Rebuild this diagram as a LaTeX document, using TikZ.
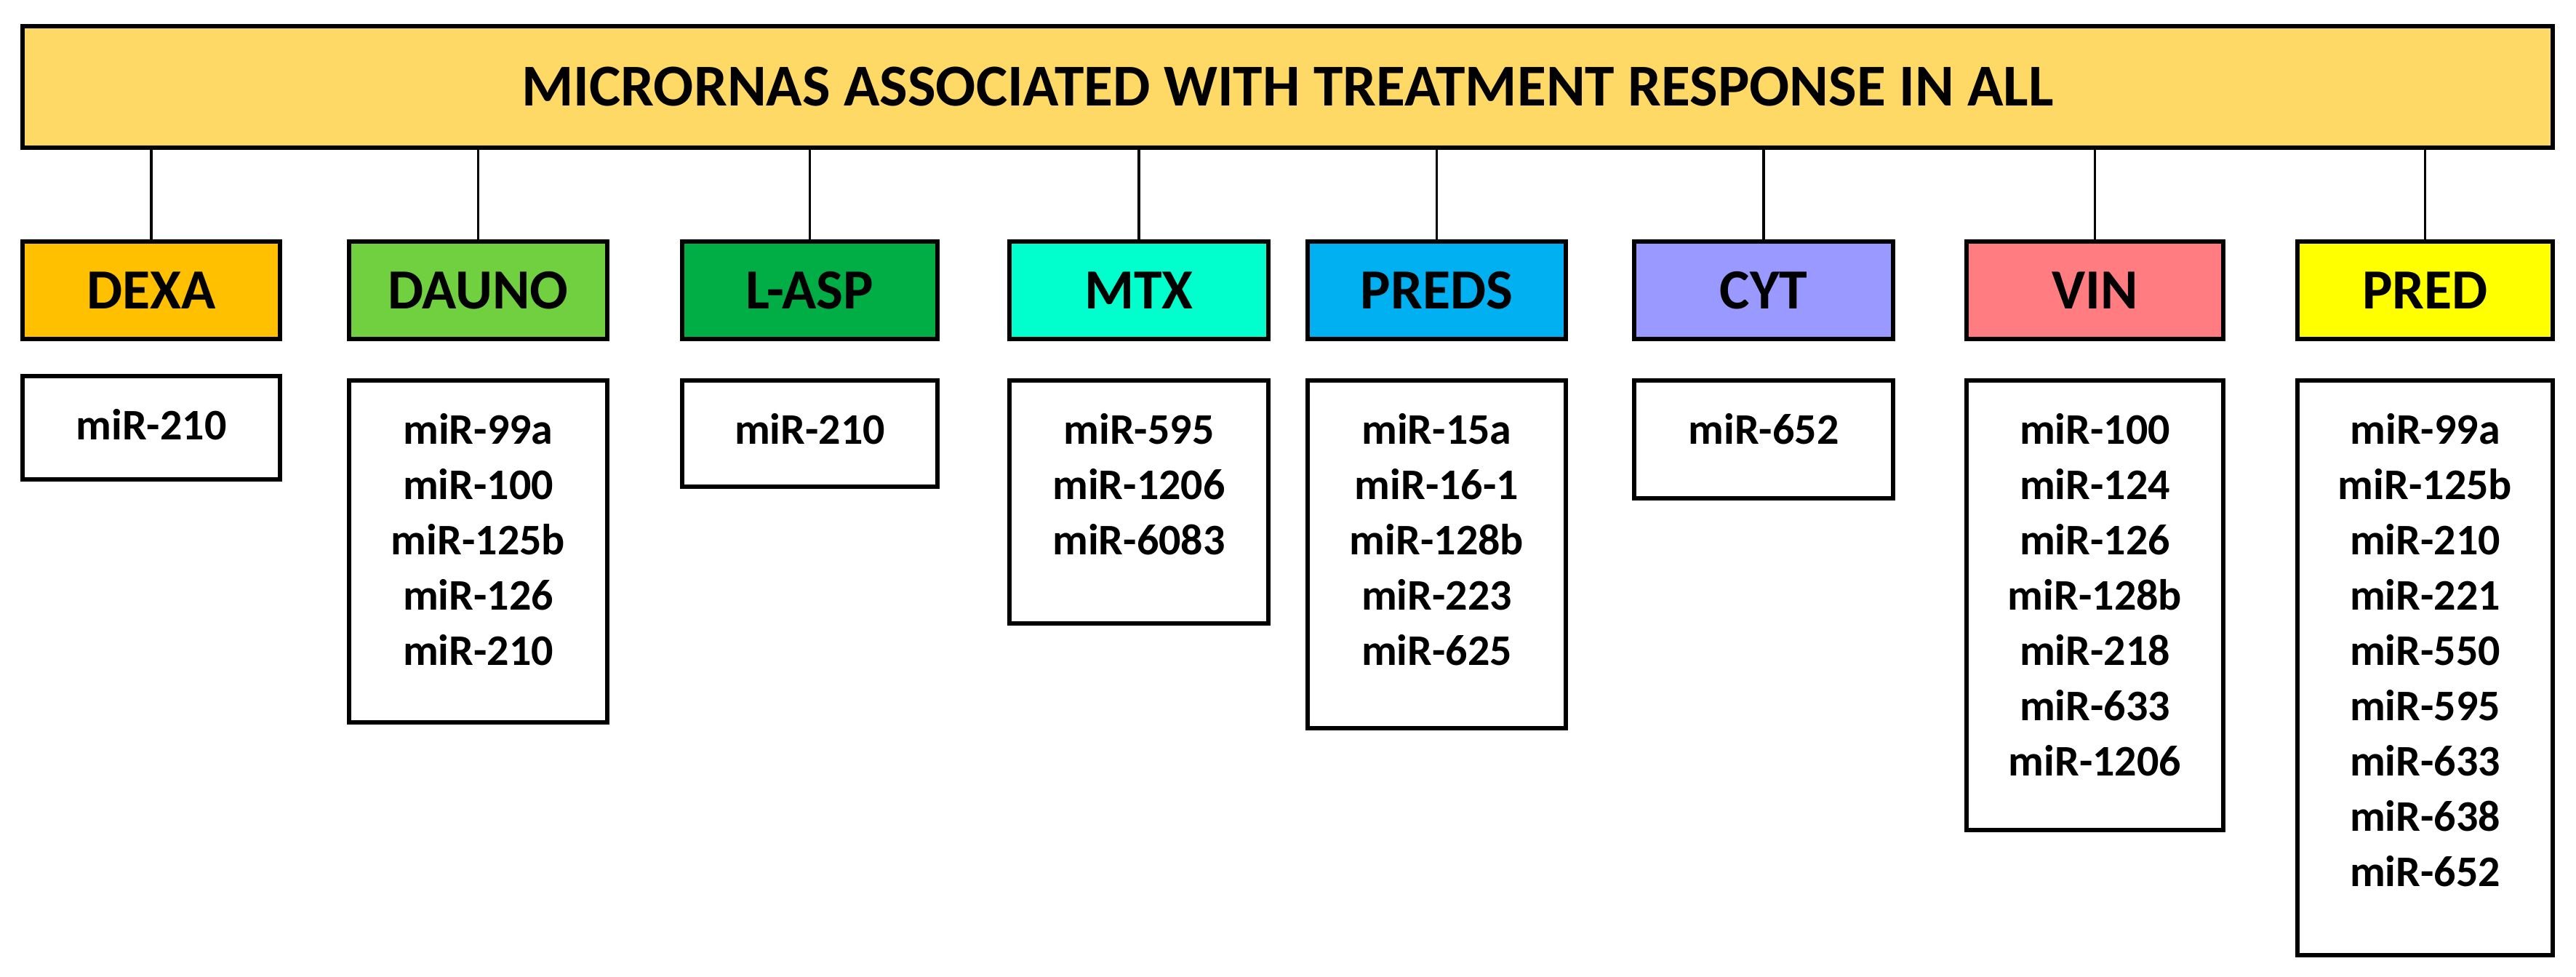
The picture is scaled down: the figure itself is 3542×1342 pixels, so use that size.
\documentclass[tikz,border=0pt]{standalone}
\usepackage{fontspec}
\setmainfont{Carlito}
\definecolor{titlefill}{HTML}{FFD966}
\definecolor{cdexa}{HTML}{FFC000}
\definecolor{cdauno}{HTML}{70D040}
\definecolor{clasp}{HTML}{00AE45}
\definecolor{cmtx}{HTML}{00FFCC}
\definecolor{cpreds}{HTML}{00B0F0}
\definecolor{ccyt}{HTML}{9999FF}
\definecolor{cvin}{HTML}{FF7C80}
\definecolor{cpred}{HTML}{FFFF00}
\newcommand\mkdrug[5]{\node[drugbox,fill=#4,minimum width={(#3-#2-6)*0.25pt},minimum height={134*0.25pt}] (#1) at ({(#2+#3)/2},399) {#5};}
\newcommand\mklist[6]{%
  \node[listbox,minimum width={(#3-#2-6)*0.25pt},minimum height={(#5-#4-6)*0.25pt}] (#1) at ({(#2+#3)/2},{(#4+#5)/2}) {};
  \node[listtext] (#1t) at ([yshift=-12pt]#1.north) {#6};}
\begin{document}
\begin{tikzpicture}[x=0.25pt,y=-0.25pt,
  hdrbox/.style={draw=black,line width=1.5pt,inner sep=0pt,font=\bfseries\fontsize{20.4}{24}\selectfont},
  drugbox/.style={draw=black,line width=1.5pt,inner sep=0pt,font=\bfseries\fontsize{19.5}{23}\selectfont},
  listbox/.style={draw=black,line width=1.5pt,inner sep=0pt,fill=white},
  listtext/.style={anchor=north,inner sep=0pt,align=center,font=\bfseries\fontsize{15}{19}\selectfont},
  link/.style={line width=0.9pt,draw=black}]
\useasboundingbox[fill=white] (0,0) rectangle (3542,1342);
\node[hdrbox,fill=titlefill,minimum width={(3513-28-6)*0.25pt},minimum height={(206-33-6)*0.25pt}] (title) at ({(28+3513)/2},{(33+206)/2}) {MICRORNAS ASSOCIATED WITH TREATMENT RESPONSE IN ALL};
\mkdrug{dexa}{28}{388}{cdexa}{DEXA}
\mkdrug{dauno}{477}{838}{cdauno}{DAUNO}
\mkdrug{lasp}{935}{1292}{clasp}{L-ASP}
\mkdrug{mtx}{1385}{1747}{cmtx}{MTX}
\mkdrug{preds}{1795}{2156}{cpreds}{PREDS}
\mkdrug{cyt}{2244}{2606}{ccyt}{CYT}
\mkdrug{vin}{2701}{3060}{cvin}{VIN}
\mkdrug{pred}{3156}{3513}{cpred}{PRED}
\foreach \d in {dexa,dauno,lasp,mtx,preds,cyt,vin,pred}{
  \draw[link] (title.south -| \d.north) -- (\d.north);
}
\mklist{ldexa}{28}{388}{514}{662}{miR-210}
\mklist{ldauno}{477}{838}{520}{996}{miR-99a\\miR-100\\miR-125b\\miR-126\\miR-210}
\mklist{llasp}{935}{1292}{520}{672}{miR-210}
\mklist{lmtx}{1385}{1747}{520}{860}{miR-595\\miR-1206\\miR-6083}
\mklist{lpreds}{1795}{2156}{520}{1004}{miR-15a\\miR-16-1\\miR-128b\\miR-223\\miR-625}
\mklist{lcyt}{2244}{2606}{520}{688}{miR-652}
\mklist{lvin}{2701}{3060}{520}{1144}{miR-100\\miR-124\\miR-126\\miR-128b\\miR-218\\miR-633\\miR-1206}
\mklist{lpred}{3156}{3513}{520}{1316}{miR-99a\\miR-125b\\miR-210\\miR-221\\miR-550\\miR-595\\miR-633\\miR-638\\miR-652}
\end{tikzpicture}
\end{document}
